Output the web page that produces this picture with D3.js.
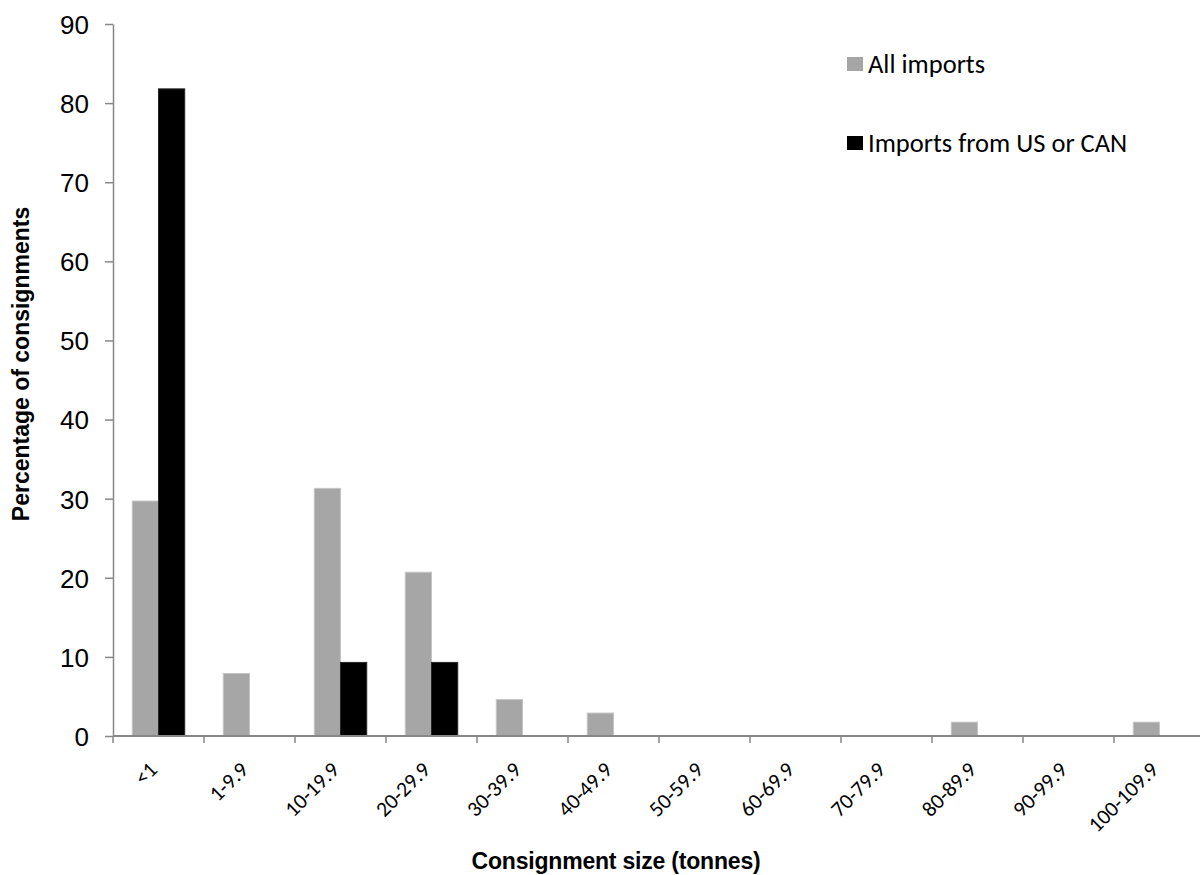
<!DOCTYPE html>
<html>
<head>
<meta charset="utf-8">
<script src="https://cdn.jsdelivr.net/npm/d3@7"></script>
<style>
  html, body { margin: 0; padding: 0; background: #fff; }
  svg { display: block; }
</style>
</head>
<body>
<svg id="chart" width="1200" height="875"></svg>
<script>
const categories = ["<1", "1-9.9", "10-19.9", "20-29.9", "30-39.9", "40-49.9",
  "50-59.9", "60-69.9", "70-79.9", "80-89.9", "90-99.9", "100-109.9"];
const allImports = [29.7, 7.9, 31.3, 20.7, 4.6, 2.9, 0, 0, 0, 1.75, 0, 1.75];
const usCanImports = [81.8, 0, 9.3, 9.3, 0, 0, 0, 0, 0, 0, 0, 0];
const seriesNames = ["All imports", "Imports from US or CAN"];
const seriesColors = ["#a6a6a6", "#000000"];
const yTicks = [0, 10, 20, 30, 40, 50, 60, 70, 80, 90];
const yTitle = "Percentage of consignments";
const xTitle = "Consignment size (tonnes)";

const svg = d3.select("#chart");
const axisColor = "#878787";

const x = d3.scaleBand().domain(categories).range([113, 1205]).padding(0);
const xs = d3.scaleBand().domain(seriesNames).range([0, x.bandwidth()])
  .paddingInner(0).paddingOuter(0.735);
const y = d3.scaleLinear().domain([0, 90]).range([736, 24]);

// bars
const seriesData = [allImports, usCanImports];
seriesNames.forEach((name, si) => {
  svg.append("g").selectAll("rect")
    .data(categories.map((c, i) => ({ c, v: seriesData[si][i] })).filter(d => d.v > 0))
    .join("rect")
    .attr("x", d => x(d.c) + xs(name))
    .attr("width", xs.bandwidth())
    .attr("y", d => y(d.v))
    .attr("height", d => y(0) - y(d.v))
    .attr("fill", seriesColors[si])
    .attr("stroke", si === 0 ? "#c4c4c4" : "#262626")
    .attr("stroke-width", 1);
});

// y axis
const yAxis = svg.append("g")
  .attr("transform", "translate(113,0)")
  .call(d3.axisLeft(y).tickValues(yTicks).tickSize(8).tickSizeOuter(0).tickPadding(16));
yAxis.select(".domain").attr("stroke", axisColor).attr("stroke-width", 1.5);
yAxis.selectAll(".tick line").attr("stroke", axisColor).attr("stroke-width", 1.5);
yAxis.selectAll(".tick text")
  .attr("font-family", "'Liberation Sans', Arial, sans-serif")
  .attr("font-size", 26)
  .attr("fill", "#000")
  .attr("dy", "0.36em");

// x axis line
svg.append("line")
  .attr("x1", 113).attr("x2", 1200)
  .attr("y1", y(0)).attr("y2", y(0))
  .attr("stroke", axisColor).attr("stroke-width", 2);

// x boundary ticks
svg.append("g").selectAll("line")
  .data(categories)
  .join("line")
  .attr("x1", d => x(d)).attr("x2", d => x(d))
  .attr("y1", y(0)).attr("y2", y(0) + 7)
  .attr("stroke", axisColor).attr("stroke-width", 1.5);

// x tick labels
svg.append("g").selectAll("text")
  .data(categories)
  .join("text")
  .attr("transform", d => `translate(${x(d) + x.bandwidth() / 2},771) rotate(-45)`)
  .attr("text-anchor", "end")
  .attr("font-family", "Carlito, Lato, sans-serif")
  .attr("font-size", 21.5)
  .attr("fill", "#000")
  .text(d => d);

// axis titles
svg.append("text")
  .attr("transform", "translate(29,364) rotate(-90)")
  .attr("text-anchor", "middle")
  .attr("font-family", "'Liberation Sans', Arial, sans-serif")
  .attr("font-weight", "bold")
  .attr("font-size", 23)
  .attr("fill", "#000")
  .text(yTitle);

svg.append("text")
  .attr("x", 616).attr("y", 869)
  .attr("text-anchor", "middle")
  .attr("font-family", "'Liberation Sans', Arial, sans-serif")
  .attr("font-weight", "bold")
  .attr("font-size", 23)
  .attr("letter-spacing", -0.2)
  .attr("fill", "#000")
  .text(xTitle);

// legend
const legendY = [57, 136];
const legend = svg.append("g");
seriesNames.forEach((name, i) => {
  legend.append("rect")
    .attr("x", 847).attr("y", legendY[i])
    .attr("width", 16).attr("height", 14)
    .attr("fill", seriesColors[i]);
  legend.append("text")
    .attr("x", 868).attr("y", legendY[i] + 16)
    .attr("font-family", "Carlito, Lato, sans-serif")
    .attr("font-size", 26.5)
    .attr("fill", "#000")
    .text(name);
});
</script>
</body>
</html>
